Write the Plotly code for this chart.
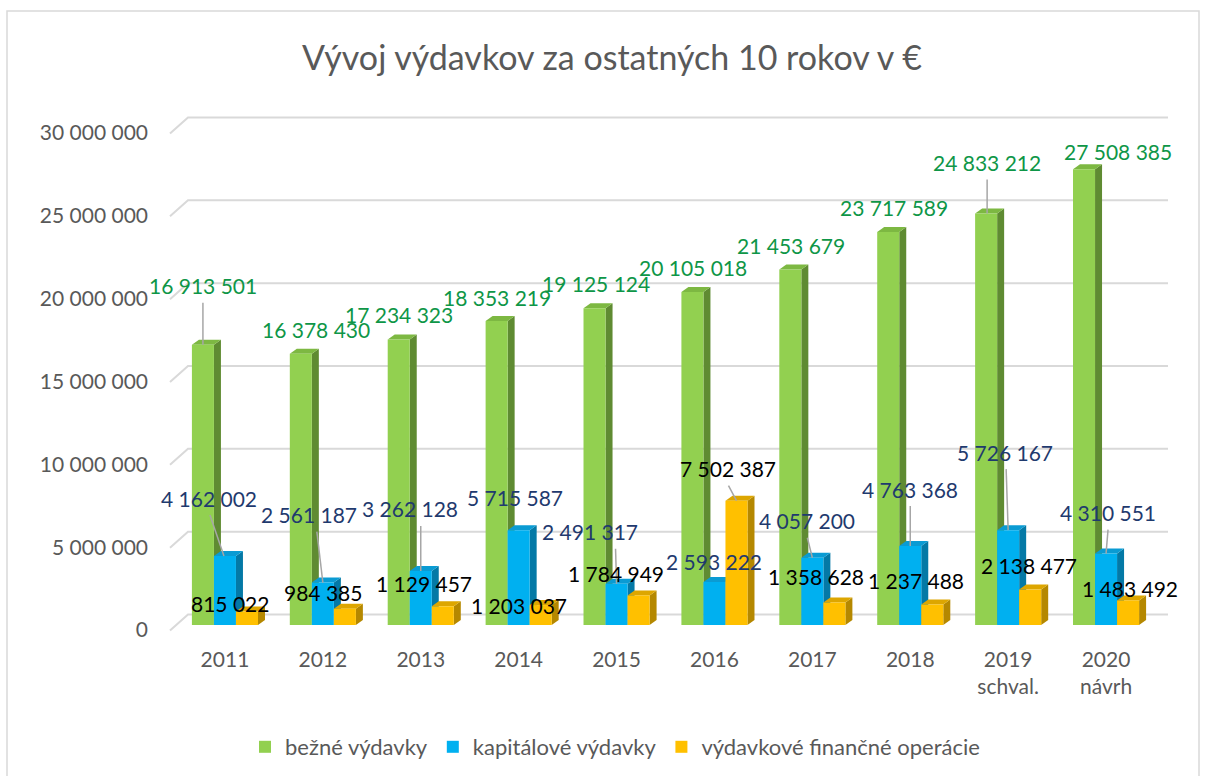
import plotly.graph_objects as go

# ---------------- data ----------------
categories = ["2011", "2012", "2013", "2014", "2015", "2016", "2017", "2018",
              "2019<br>schval.", "2020<br>návrh"]
bezne_vydavky = [16913501, 16378430, 17234323, 18353219, 19125124,
                 20105018, 21453679, 23717589, 24833212, 27508385]
kapitalove_vydavky = [4162002, 2561187, 3262128, 5715587, 2491317,
                      2593222, 4057200, 4763368, 5726167, 4310551]
financne_operacie = [815022, 984385, 1129457, 1203037, 1784949,
                     7502387, 1358628, 1237488, 2138477, 1483492]
series_names = ["bežné výdavky", "kapitálové výdavky", "výdavkové finančné operácie"]
y_tick_values = [0, 5000000, 10000000, 15000000, 20000000, 25000000, 30000000]
title_text = "Vývoj výdavkov za ostatných 10 rokov v €"

# ---------------- styling / layout constants ----------------
W, H = 1206, 776
ML, MR, MT, MB = 176, 51, 128, 151
PW, PH = W - ML - MR, H - MT - MB
Y_MAX = 30000000
PPX = PW / 10.0            # px per category unit
PPY = PH / Y_MAX           # px per value unit
FONT = "Lato"
GRAY_TXT = "#595959"

front_colors = ["#92D050", "#00B0F0", "#FFC000"]
side_colors = ["#5F8B32", "#0479A6", "#B58800"]
top_colors = ["#7DB842", "#0A9BD3", "#DDA600"]
label_colors = ["#0E9647", "#1F3A6E", "#000000"]

bar_w = 0.225
offsets = [-1.5 * bar_w, -0.5 * bar_w, 0.5 * bar_w]
depth_dx, depth_dy = 7, 5   # px

# label placement (pixel offsets relative to bar top centre)
label_dx = [[0, 15, 0, 0, 1, 1, 1, 6, 1, 34],
            [-16, -14, -11, -4, -27, 0, -5, 0, -3, 2],
            [-17, -22, -19, -22, -23, -8, -18, -16, -1, 2]]
label_dy = [[-59, -24, -25, -23, -25, -24, -24, -25, -51, -18],
            [-58, -68, -62, -33, -52, -21, -37, -57, -78, -41],
            [-8, -16, -23, 0, -22, -32, -26, -24, -24, -12]]
# leader lines: (series, index, start dx from label centre, end dx from bar centre)
leaders = [(0, 0, 0, 0), (0, 8, 0, 1), (1, 0, 1, -1), (1, 1, 8, 0), (1, 2, 11, 0),
           (1, 4, 26, 0), (1, 6, 0, 0), (1, 7, 0, 0), (1, 8, 1, 0), (1, 9, 0, 0),
           (2, 5, 0, 0)]

all_series = [bezne_vydavky, kapitalove_vydavky, financne_operacie]
idx = list(range(len(categories)))


def fmt(v):
    return f"{int(v):,}".replace(",", " ")


fig = go.Figure()
for s, vals in enumerate(all_series):
    fig.add_trace(go.Bar(
        x=idx, y=vals, width=bar_w, offset=offsets[s],
        name=series_names[s],
        marker=dict(color=front_colors[s], line=dict(width=0)),
        hoverinfo="y+name",
    ))

shapes = []


def px_to_paper_x(px):
    return (px - ML) / PW


def px_to_paper_y(py):
    return (H - MB - py) / PH


# 3D-like gridlines (front diagonal + back wall line)
for v in y_tick_values:
    ypx = H - MB - v * PPY
    path = (f"M {px_to_paper_x(170)},{px_to_paper_y(ypx + 5.5)} "
            f"L {px_to_paper_x(188)},{px_to_paper_y(ypx - 10.5)} "
            f"L {px_to_paper_x(1168)},{px_to_paper_y(ypx - 10.5)}")
    shapes.append(dict(type="path", path=path, xref="paper", yref="paper",
                       line=dict(color="#D9D9D9", width=2), layer="below"))

# depth faces of bars
ddx = depth_dx / PPX
ddy = depth_dy / PPY
for s, vals in enumerate(all_series):
    for i, v in zip(idx, vals):
        left = i + offsets[s]
        right = left + bar_w
        side = (f"M {right},0 L {right + ddx},{ddy} L {right + ddx},{v + ddy} "
                f"L {right},{v} Z")
        top = (f"M {left},{v} L {right},{v} L {right + ddx},{v + ddy} "
               f"L {left + ddx},{v + ddy} Z")
        shapes.append(dict(type="path", path=side, xref="x", yref="y",
                           fillcolor=side_colors[s], line=dict(width=0), layer="below"))
        shapes.append(dict(type="path", path=top, xref="x", yref="y",
                           fillcolor=top_colors[s], line=dict(width=0), layer="below"))

# leader lines
for s, i, sdx, edx in leaders:
    v = all_series[s][i]
    cx = i + offsets[s] + bar_w / 2
    lx = cx + (label_dx[s][i] + sdx) / PPX
    ly = v - (label_dy[s][i] + 17) / PPY
    shapes.append(dict(type="line", xref="x", yref="y",
                       x0=lx, y0=ly, x1=cx + edx / PPX, y1=v,
                       line=dict(color="#A6A6A6", width=1.5), layer="above"))

# outer chart border
shapes.append(dict(type="rect", xref="paper", yref="paper",
                   x0=px_to_paper_x(7), x1=px_to_paper_x(1199),
                   y0=px_to_paper_y(800), y1=px_to_paper_y(11),
                   line=dict(color="#D9D9D9", width=1.5), layer="below"))

annotations = []
for s, vals in enumerate(all_series):
    for i, v in zip(idx, vals):
        cx = i + offsets[s] + bar_w / 2
        annotations.append(dict(
            x=cx, y=v, xref="x", yref="y", text=fmt(v), showarrow=False,
            xshift=label_dx[s][i], yshift=-label_dy[s][i],
            xanchor="center", yanchor="middle",
            font=dict(family=FONT, size=21, color=label_colors[s])))

fig.update_layout(
    width=W, height=H,
    margin=dict(l=ML, r=MR, t=MT, b=MB),
    paper_bgcolor="white", plot_bgcolor="white",
    barmode="overlay",
    title=dict(text=title_text, x=612 / W, xanchor="center", xref="container",
               y=1 - 58 / H, yanchor="middle", yref="container",
               font=dict(family=FONT, size=34, color=GRAY_TXT)),
    font=dict(family=FONT, color=GRAY_TXT),
    showlegend=True,
    legend=dict(orientation="h", xref="container", yref="container",
                x=615 / W, xanchor="center", y=1 - 747 / H, yanchor="middle",
                font=dict(family=FONT, size=22, color=GRAY_TXT),
                itemwidth=30, traceorder="normal"),
    shapes=shapes,
    annotations=annotations,
    xaxis=dict(range=[-0.5, 9.5], tickvals=idx, ticktext=categories,
               showgrid=False, zeroline=False, showline=False, ticks="",
               tickfont=dict(family=FONT, size=21, color=GRAY_TXT),
               ticklabelstandoff=20),
    yaxis=dict(range=[0, Y_MAX], tickvals=y_tick_values,
               ticktext=[fmt(v) for v in y_tick_values],
               showgrid=False, zeroline=False, showline=False, ticks="",
               tickfont=dict(family=FONT, size=21, color=GRAY_TXT),
               ticklabelstandoff=27, ticklabelshift=5),
)

fig.write_html("out.html", config={"displayModeBar": False},
               post_script="document.body.style.margin='0';")
